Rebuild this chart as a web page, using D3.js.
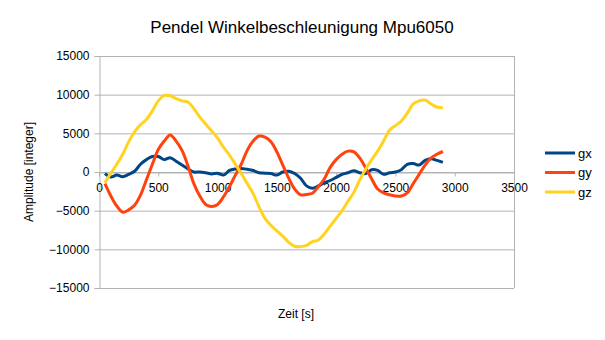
<!DOCTYPE html>
<html><head><meta charset="utf-8">
<script src="https://cdn.jsdelivr.net/npm/d3@7"></script>
<style>body{margin:0;background:#fff}svg{display:block;font-family:"Liberation Sans",Arial,sans-serif}</style>
</head><body><svg id="c" width="605" height="340"></svg>
<script>
const times = [50,100,150,200,250,300,350,400,450,500,550,600,650,700,750,800,850,900,950,1000,1050,1100,1150,1200,1250,1300,1350,1400,1450,1500,1550,1600,1650,1700,1750,1800,1850,1900,1950,2000,2050,2100,2150,2200,2250,2300,2350,2400,2450,2500,2550,2600,2650,2700,2750,2800,2850,2900];
const gx = [-200,-650,-400,-600,-300,100,1000,1600,2000,2000,1600,1850,1400,900,400,0,0,-100,-250,-150,-400,200,400,450,350,200,-100,-150,-200,-400,0,100,-200,-800,-1800,-2100,-1800,-1400,-1100,-700,-300,-100,150,-100,-200,300,200,-300,-100,0,300,1000,1100,900,1500,1700,1500,1250];
const gy = [-1500,-3100,-4400,-5200,-4900,-4300,-3000,-1000,1000,2900,4000,4800,4000,2800,800,-1500,-3100,-4200,-4450,-4200,-3200,-1900,-400,1000,2800,4000,4650,4500,3900,2600,900,-800,-2200,-2950,-2900,-2750,-1900,-900,600,1600,2300,2700,2600,1800,500,-900,-2200,-2700,-2950,-3100,-3100,-2700,-1500,-300,900,1800,2300,2650];
const gz = [-1400,-150,1000,2300,3900,5200,6100,6800,7900,9200,9900,9850,9500,9200,9050,8200,7100,6200,5300,4400,3200,2200,1000,-200,-1500,-2800,-4500,-6000,-6900,-7600,-8300,-9100,-9600,-9650,-9500,-9000,-8800,-8000,-7000,-6000,-5000,-3800,-2600,-1000,400,1600,2700,4000,5400,6000,6600,7600,8800,9200,9300,8800,8400,8300];
const seriesNames = ["gx","gy","gz"];
const seriesColors = ["#004586","#ff420e","#ffd320"];
const xTicks = [0,500,1000,1500,2000,2500,3000,3500];
const yTicks = [-15000,-10000,-5000,0,5000,10000,15000];
const title = "Pendel Winkelbeschleunigung Mpu6050";
const xTitle = "Zeit [s]";
const yTitle = "Amplitude [integer]";

const svg = d3.select("#c");
const L = 99, R = 514, T = 56, B = 288;
const x = d3.scaleLinear().domain([0,3500]).range([L,R]);
const y = d3.scaleLinear().domain([-15000,15000]).range([B,T]);
const grid = "#b3b3b3";

svg.append("g").selectAll("line").data(yTicks).join("line")
  .attr("x1",L).attr("x2",R).attr("y1",d=>y(d)+0.5).attr("y2",d=>y(d)+0.5)
  .attr("stroke",grid).attr("stroke-width",1);
svg.append("line").attr("x1",R+0.5).attr("x2",R+0.5).attr("y1",y(15000)).attr("y2",y(-15000)).attr("stroke",grid);

const ya = svg.append("g").attr("transform",`translate(${L+0.5},0)`)
  .call(d3.axisLeft(y).tickValues(yTicks).tickSize(5).tickPadding(5).tickFormat(d3.format("d")));
ya.select(".domain").attr("stroke",grid);
ya.selectAll(".tick line").attr("stroke",grid);
ya.selectAll("text").attr("font-size",12).attr("fill","#000").attr("font-family","Liberation Sans, Arial, sans-serif");

const xa = svg.append("g").attr("transform",`translate(0,${y(0)+0.5})`)
  .call(d3.axisBottom(x).tickValues(xTicks).tickSize(4).tickPadding(7).tickFormat(d3.format("d")));
xa.select(".domain").attr("stroke",grid);
xa.selectAll(".tick line").attr("stroke",grid);
xa.selectAll("text").attr("font-size",12).attr("fill","#000").attr("font-family","Liberation Sans, Arial, sans-serif");

const sets = [gx,gy,gz];
const line = d3.line().x((d,i)=>x(times[i])).y(d=>y(d)).curve(d3.curveCatmullRom);
sets.forEach((s,k)=>{
  svg.append("path").datum(s).attr("d",line).attr("fill","none")
    .attr("stroke",seriesColors[k]).attr("stroke-width",3).attr("stroke-linejoin","round");
});

svg.append("text").attr("x",302).attr("y",33).attr("text-anchor","middle").attr("font-size",17).text(title);
svg.append("text").attr("x",296).attr("y",318).attr("text-anchor","middle").attr("font-size",12).text(xTitle);
svg.append("text").attr("transform",`translate(33,${y(0)}) rotate(-90)`).attr("text-anchor","middle").attr("font-size",12).text(yTitle);

const lg = svg.append("g");
seriesNames.forEach((n,k)=>{
  const yy = 153 + k*19.5;
  lg.append("line").attr("x1",545).attr("x2",575).attr("y1",yy).attr("y2",yy).attr("stroke",seriesColors[k]).attr("stroke-width",3);
  lg.append("text").attr("x",578).attr("y",yy+4.5).attr("font-size",13).text(n);
});
</script></body></html>
